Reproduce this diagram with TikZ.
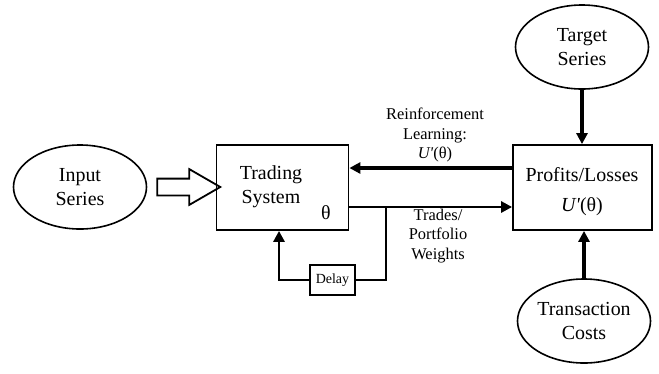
\documentclass[tikz,border=0pt]{standalone}
\usepackage{fontspec}
\setmainfont{Liberation Serif}
\usetikzlibrary{shapes.geometric,shapes.arrows,arrows.meta}
\begin{document}
\begin{tikzpicture}[x=1bp,y=-1bp,
  ell/.style={ellipse,draw,line width=1.6bp,minimum width=133bp,minimum height=84bp,inner sep=0pt,align=center,font=\fontsize{20}{24}\selectfont},
  bigbox/.style={draw,line width=1.8bp,minimum width=132bp,minimum height=85bp,inner sep=0pt},
  big/.style={font=\fontsize{20}{24}\selectfont,align=center,inner sep=0pt},
  lab/.style={font=\fontsize{16.5}{20}\selectfont,align=center,inner sep=0pt},
  thick arr/.style={line width=3.8bp,-{Triangle[length=11bp,width=11bp]}},
  mid arr/.style={line width=2.8bp,-{Triangle[length=11bp,width=11bp]}},
  fb/.style={line width=2.8bp}
]
\useasboundingbox (0,0) rectangle (659,373);
% nodes
\node[ell] (inp) at (80,187) {Input\\Series};
\node[ell] (tgt) at (582,47) {Target\\Series};
\node[ell] (tc) at (584,321) {Transaction\\Costs};
\node[bigbox] (ts) at (282.5,187.5) {};
\node[big] (tstext) at (271,187) {Trading\\System};
\node[big] (theta) at (326,213) {θ};
\node[bigbox,minimum width=139bp] (pl) at (582.5,187.5) {};
\node[big] (pltext) at (582,175) {Profits/Losses};
\node[big] (ut) at (582,207) {\textit{U\textquotesingle}(θ)};
\node[draw,line width=1.5bp,minimum width=45bp,minimum height=30bp,inner sep=0pt,font=\fontsize{14}{16}\selectfont] (delay) at (332.5,280) {Delay};
% labels
\node[lab] (rl) at (435,135) {Reinforcement\\Learning:\\\textit{U\textquotesingle}(θ)};
\node[lab] (tw) at (438,236) {Trades/\\Portfolio\\Weights};
% hollow arrow
\node[single arrow,draw,line width=1.8bp,minimum height=63bp,minimum width=34bp,single arrow head extend=9.5bp,single arrow tip angle=60,inner sep=0pt,text width=0pt,text height=15bp] (harr) at (181.5,187) {};
% connectors
\draw[thick arr] (pl.west |- 0,168) -- (ts.east |- 0,168);
\draw[mid arr] (ts.east |- 0,207) -- (pl.west |- 0,207);
\coordinate (j) at (386,207);
\draw[fb] (j) |- (delay.east);
\draw[mid arr] (delay.west) -| (ts.south -| 279,0);
\draw[thick arr] (tgt.south) -- (pl.north -| tgt.south);
\draw[thick arr] (tc.north) -- (pl.south -| tc.north);
\end{tikzpicture}
\end{document}
